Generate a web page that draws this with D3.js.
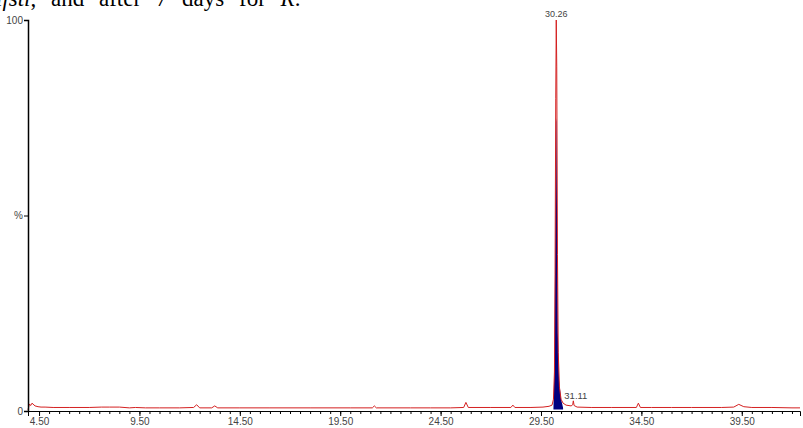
<!DOCTYPE html>
<html>
<head>
<meta charset="utf-8">
<script src="https://cdn.jsdelivr.net/npm/d3@7"></script>
<style>
  body { margin: 0; background: #fff; }
  svg { display: block; }
</style>
</head>
<body>
<div id="chart"></div>
<script>
// retention times (min) and relative intensity (%) of the TIC trace
var rtTimes = [3.95, 4.02, 4.08, 4.15, 4.3, 4.45, 4.6, 4.8, 5.2, 6.0, 7.0, 7.6, 8.0, 8.5, 9.0, 9.3, 9.8, 10.5, 11.5,
  12.2, 12.35, 12.5, 13.1, 13.25, 13.4, 14.5, 16.0, 18.0, 20.0, 21.1, 21.2, 21.3, 23.0, 24.0, 25.0, 25.65, 25.76,
  25.88, 27.0, 28.0, 28.1, 28.2, 29.0, 29.6, 29.9, 30.05, 30.12, 30.17, 30.2, 30.235, 30.26, 30.285, 30.32, 30.36,
  30.42, 30.5, 30.6, 30.75, 31.0, 31.08, 31.11, 31.15, 31.3, 32.0, 33.0, 34.25, 34.35, 34.45, 35.0, 36.0, 37.0, 38.5,
  39.1, 39.35, 39.6, 40.0, 41.0, 42.0, 42.4];
var ticValues = [0.3, 1.8, 1.4, 2.0, 1.3, 1.1, 1.0, 1.0, 0.9, 0.9, 0.9, 1.0, 1.0, 1.0, 0.8, 0.9, 0.8, 0.8, 0.8,
  0.9, 1.6, 0.8, 0.8, 1.3, 0.8, 0.8, 0.8, 0.8, 0.8, 0.8, 1.3, 0.8, 0.8, 0.8, 0.8, 0.9, 2.2,
  0.9, 0.9, 0.9, 1.5, 0.9, 0.9, 1.0, 1.2, 1.5, 3.0, 10, 35, 80, 100, 88, 40, 15,
  6, 3, 2, 1.5, 1.3, 1.6, 2.6, 1.4, 1.0, 0.9, 0.9, 0.9, 2.0, 0.9, 0.9, 0.9, 0.9, 0.9,
  1.0, 1.7, 1.1, 0.9, 0.9, 0.8, 0.8];

// integrated peak area (filled)
var areaTimes = [30.12, 30.17, 30.21, 30.245, 30.27, 30.3, 30.34, 30.4, 30.5, 30.6];
var areaValues = [0.5, 12, 45, 75, 74, 50, 20, 8, 3, 0.8];

// labelled peaks
var peakTimes = [30.26, 31.11];
var peakValues = [100, 2.6];

var xTicks = [4.5, 9.5, 14.5, 19.5, 24.5, 29.5, 34.5, 39.5];
var yTicks = [0, 50, 100];
var yTickLabels = ["0", "%", "100"];

var width = 803, height = 428;

var svg = d3.select('#chart').append('svg').attr('width', width).attr('height', height);

// piece of the surrounding page text, cut off at the top as in the scan
svg.append('text')
    .attr('x', -4).attr('y', 6)
    .attr('font-family', 'Liberation Serif, Times New Roman, serif')
    .attr('font-size', 23)
    .attr('word-spacing', 9)
    .attr('fill', '#000')
    .html('<tspan font-style="italic">ifsti</tspan>, and after 7 days for <tspan font-style="italic">R</tspan>.');

var x = d3.scaleLinear().domain([3.95, 42.4]).range([28, 800]);
var y = d3.scaleLinear().domain([0, 100]).range([411, 20]);

var ticData = rtTimes.map(function(t, i) { return [t, ticValues[i]]; });
var areaData = areaTimes.map(function(t, i) { return [t, areaValues[i]]; });

svg.append('path')
    .datum(areaData)
    .attr('fill', '#000080')
    .attr('d', d3.area()
        .x(function(d) { return x(d[0]); })
        .y0(y(0.4))
        .y1(function(d) { return y(d[1]); }));

svg.append('path')
    .datum(ticData)
    .attr('fill', 'none')
    .attr('stroke', '#d42020')
    .attr('stroke-width', 1)
    .attr('d', d3.line()
        .x(function(d) { return x(d[0]); })
        .y(function(d) { return y(d[1]); }));

// x axis: minor ticks every 0.5, labelled ticks every 5
var minor = d3.range(4.5, 42.3, 0.5);
var gxMinor = svg.append('g')
    .attr('transform', 'translate(0,' + y(0) + ')')
    .call(d3.axisBottom(x).tickValues(minor).tickSize(3).tickFormat(''));
var gx = svg.append('g')
    .attr('transform', 'translate(0,' + y(0) + ')')
    .call(d3.axisBottom(x).tickValues(xTicks).tickSize(5).tickPadding(2).tickFormat(d3.format('.2f')));
gxMinor.select('.domain').remove();
gx.select('.domain').attr('stroke', '#000');

var gy = svg.append('g')
    .attr('transform', 'translate(28,0)')
    .call(d3.axisLeft(y).tickValues(yTicks).tickSize(4).tickPadding(1)
        .tickFormat(function(d, i) { return yTickLabels[i]; }));
gy.select('.domain').attr('stroke', '#000').attr('stroke-width', 1.5);

svg.selectAll('.tick text')
    .attr('font-family', 'Arial, Liberation Sans, sans-serif')
    .attr('font-size', 10)
    .attr('fill', '#444');

// peak labels
svg.append('text')
    .attr('x', x(peakTimes[0])).attr('y', y(peakValues[0]) - 3)
    .attr('text-anchor', 'middle')
    .attr('font-family', 'Arial, Liberation Sans, sans-serif')
    .attr('font-size', 9).attr('fill', '#444')
    .text(peakTimes[0].toFixed(2));
svg.append('text')
    .attr('x', x(peakTimes[1]) - 9).attr('y', y(peakValues[1]) - 2)
    .attr('font-family', 'Arial, Liberation Sans, sans-serif')
    .attr('font-size', 9.5).attr('fill', '#444')
    .text(peakTimes[1].toFixed(2));
</script>
</body>
</html>
